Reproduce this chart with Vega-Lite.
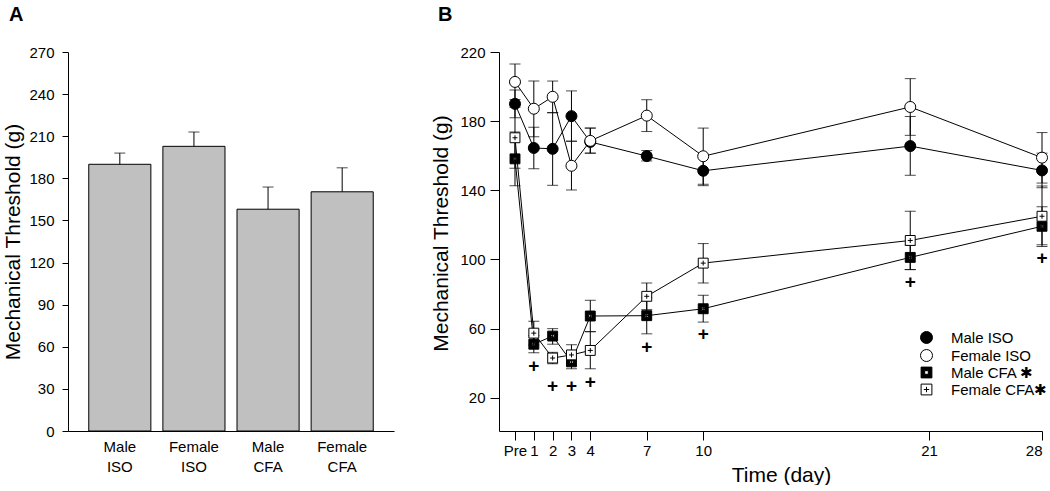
{
  "$schema": "https://vega.github.io/schema/vega-lite/v6.json",
  "background": "white",
  "padding": {"left": 2, "top": 5, "right": 2, "bottom": 0},
  "config": {
    "font": "Liberation Sans",
    "view": {"stroke": null},
    "axis": {"grid": false, "domainColor": "black", "tickColor": "black", "labelColor": "black", "titleColor": "black", "labelFont": "Liberation Sans", "titleFont": "Liberation Sans", "labelFontSize": 15, "titleFontSize": 21, "titleFontWeight": "normal", "domainWidth": 1, "tickWidth": 1},
    "title": {"font": "Liberation Sans", "fontSize": 20, "fontWeight": "bold", "anchor": "start", "color": "black", "frame": "bounds"}
  },
  "datasets": {
    "bars": [
      {"group": "Male ISO", "mean": 190, "hi": 198},
      {"group": "Female ISO", "mean": 202.8, "hi": 213},
      {"group": "Male CFA", "mean": 158, "hi": 173.8},
      {"group": "Female CFA", "mean": 170.4, "hi": 187.5}
    ],
    "series": [
      {"group": "Male ISO", "day": 0, "mean": 190, "lo": 182, "hi": 198},
      {"group": "Male ISO", "day": 1, "mean": 164.5, "lo": 152.5, "hi": 176.5},
      {"group": "Male ISO", "day": 2, "mean": 164, "lo": 142.9, "hi": 185},
      {"group": "Male ISO", "day": 3, "mean": 182.9, "lo": 168.4, "hi": 197.5},
      {"group": "Male ISO", "day": 4, "mean": 168, "lo": 161.5, "hi": 176},
      {"group": "Male ISO", "day": 7, "mean": 159.8, "lo": 157, "hi": 163},
      {"group": "Male ISO", "day": 10, "mean": 151.3, "lo": 142.7, "hi": 160},
      {"group": "Male ISO", "day": 21, "mean": 165.6, "lo": 148.7, "hi": 182.7},
      {"group": "Male ISO", "day": 28, "mean": 151.5, "lo": 141.5, "hi": 161.5},
      {"group": "Female ISO", "day": 0, "mean": 202.7, "lo": 192.5, "hi": 213.1},
      {"group": "Female ISO", "day": 1, "mean": 187.2, "lo": 171, "hi": 203.2},
      {"group": "Female ISO", "day": 2, "mean": 194.1, "lo": 184.8, "hi": 203.2},
      {"group": "Female ISO", "day": 3, "mean": 154.2, "lo": 140.2, "hi": 168.4},
      {"group": "Female ISO", "day": 4, "mean": 168.6, "lo": 161.5, "hi": 176},
      {"group": "Female ISO", "day": 7, "mean": 183.2, "lo": 174, "hi": 192.4},
      {"group": "Female ISO", "day": 10, "mean": 159.7, "lo": 143.5, "hi": 176},
      {"group": "Female ISO", "day": 21, "mean": 188.2, "lo": 171.8, "hi": 204.6},
      {"group": "Female ISO", "day": 28, "mean": 158.9, "lo": 144.2, "hi": 173.4},
      {"group": "Male CFA", "day": 0, "mean": 158.2, "lo": 142.6, "hi": 173.8},
      {"group": "Male CFA", "day": 1, "mean": 51, "lo": 46, "hi": 56},
      {"group": "Male CFA", "day": 2, "mean": 55.7, "lo": 51, "hi": 60},
      {"group": "Male CFA", "day": 3, "mean": 40.8, "lo": 36.8, "hi": 44.8},
      {"group": "Male CFA", "day": 4, "mean": 67.3, "lo": 58.3, "hi": 76.4},
      {"group": "Male CFA", "day": 7, "mean": 67.5, "lo": 57, "hi": 78},
      {"group": "Male CFA", "day": 10, "mean": 71.5, "lo": 63.8, "hi": 79.3},
      {"group": "Male CFA", "day": 21, "mean": 101.2, "lo": 94.1, "hi": 108.3},
      {"group": "Male CFA", "day": 28, "mean": 119.2, "lo": 108.5, "hi": 130.5},
      {"group": "Female CFA", "day": 0, "mean": 170.4, "lo": 152.8, "hi": 188},
      {"group": "Female CFA", "day": 1, "mean": 57.4, "lo": 50.5, "hi": 64.3},
      {"group": "Female CFA", "day": 2, "mean": 43, "lo": 39.7, "hi": 46.3},
      {"group": "Female CFA", "day": 3, "mean": 44.8, "lo": 39, "hi": 50.7},
      {"group": "Female CFA", "day": 4, "mean": 47.4, "lo": 36.8, "hi": 58.2},
      {"group": "Female CFA", "day": 7, "mean": 78.7, "lo": 71, "hi": 86.4},
      {"group": "Female CFA", "day": 10, "mean": 97.9, "lo": 86.4, "hi": 109.2},
      {"group": "Female CFA", "day": 21, "mean": 111, "lo": 94.2, "hi": 127.9},
      {"group": "Female CFA", "day": 28, "mean": 125, "lo": 107.5, "hi": 142.5}
    ],
    "plus": [
      {"day": 1, "value": 39.3},
      {"day": 2, "value": 28.1},
      {"day": 3, "value": 28.1},
      {"day": 4, "value": 30.1},
      {"day": 7, "value": 50.3},
      {"day": 10, "value": 58},
      {"day": 21, "value": 88.3},
      {"day": 28, "value": 101.8}
    ]
  },
  "spacing": 36,
  "hconcat": [
    {
      "width": 326,
      "height": 379,
      "title": {"text": "A", "offset": 20, "dx": 6},
      "data": {"name": "bars"},
      "encoding": {
        "x": {"field": "group", "type": "nominal", "sort": null, "scale": {"paddingInner": 0.162, "paddingOuter": 0.28}, "axis": {"title": null, "labelAngle": 0, "ticks": false, "labelExpr": "split(datum.label, ' ')", "labelPadding": 8, "labelLineHeight": 20, "labelBaseline": "top", "labelFontSize": 15}}
      },
      "layer": [
        {
          "mark": {"type": "bar", "fill": "#c0c0c0", "stroke": "black", "strokeWidth": 1},
          "encoding": {"y": {"field": "mean", "type": "quantitative", "title": "Mechanical Threshold (g)", "scale": {"domain": [0, 270], "nice": false}, "axis": {"values": [0, 30, 60, 90, 120, 150, 180, 210, 240, 270], "tickSize": 6, "labelPadding": 8, "titlePadding": 5}}}
        },
        {
          "mark": {"type": "rule", "color": "black", "strokeWidth": 1},
          "encoding": {"y": {"field": "mean", "type": "quantitative", "title": "Mechanical Threshold (g)"}, "y2": {"field": "hi"}}
        },
        {
          "mark": {"type": "tick", "orient": "horizontal", "color": "black", "size": 11, "thickness": 1},
          "encoding": {"y": {"field": "hi", "type": "quantitative", "title": "Mechanical Threshold (g)"}}
        }
      ]
    },
    {
      "width": 543,
      "height": 379,
      "title": {"text": "B", "offset": 20, "dx": 7},
      "encoding": {
        "x": {"field": "day", "type": "quantitative", "title": "Time (day)", "scale": {"domain": [-0.85, 28], "nice": false, "zero": false}, "axis": {"values": [0, 1, 2, 3, 4, 7, 10, 22, 28], "labelExpr": "datum.value == 0 ? 'Pre' : datum.value == 22 ? '21' : datum.label", "tickSize": 9, "labelPadding": 3, "titlePadding": 6, "titleX": 282}}
      },
      "layer": [
        {
          "data": {"name": "series"},
          "mark": {"type": "rule", "color": "black", "strokeWidth": 1},
          "encoding": {"y": {"field": "lo", "type": "quantitative", "title": "Mechanical Threshold (g)", "scale": {"domain": [0.8, 220], "nice": false, "zero": false}, "axis": {"values": [20, 40, 60, 80, 100, 120, 140, 160, 180, 200, 220], "tickSize": 9, "labelPadding": 5, "titlePadding": 8, "titleY": 181}}, "y2": {"field": "hi"}}
        },
        {
          "data": {"name": "series"},
          "mark": {"type": "tick", "orient": "horizontal", "color": "black", "size": 11, "thickness": 1},
          "encoding": {"y": {"field": "lo", "type": "quantitative", "title": "Mechanical Threshold (g)"}}
        },
        {
          "data": {"name": "series"},
          "mark": {"type": "tick", "orient": "horizontal", "color": "black", "size": 11, "thickness": 1},
          "encoding": {"y": {"field": "hi", "type": "quantitative", "title": "Mechanical Threshold (g)"}}
        },
        {
          "data": {"name": "series"},
          "mark": {"type": "line", "color": "black", "strokeWidth": 1},
          "encoding": {"y": {"field": "mean", "type": "quantitative", "title": "Mechanical Threshold (g)"}, "detail": {"field": "group"}}
        },
        {
          "data": {"name": "series"},
          "mark": {"type": "point", "filled": true, "stroke": "black", "strokeWidth": 1, "size": 121, "opacity": 1},
          "encoding": {
            "y": {"field": "mean", "type": "quantitative", "title": "Mechanical Threshold (g)"},
            "shape": {"field": "group", "type": "nominal", "scale": {"domain": ["Male ISO", "Female ISO", "Male CFA", "Female CFA"], "range": ["circle", "circle", "M-0.9,-0.9H0.9V0.9H-0.9ZM-0.3,-0.3V0.3H0.3V-0.3Z", "M-0.9,-0.9H0.9V0.9H-0.9ZM-0.45,0H0.45M0,-0.45V0.45"]}, "legend": {"title": null, "orient": "none", "legendX": 851, "legendY": 278, "padding": 0, "labelFontSize": 15, "labelFont": "Liberation Sans", "labelColor": "black", "symbolSize": 144, "symbolStrokeWidth": 1, "labelOffset": 17, "rowPadding": 1, "labelExpr": "datum.label == 'Male CFA' ? 'Male CFA ✱' : datum.label == 'Female CFA' ? 'Female CFA✱' : datum.label"}},
            "fill": {"field": "group", "type": "nominal", "scale": {"domain": ["Male ISO", "Female ISO", "Male CFA", "Female CFA"], "range": ["black", "white", "black", "white"]}, "legend": {"title": null, "orient": "none", "legendX": 851, "legendY": 278, "padding": 0, "labelFontSize": 15, "labelFont": "Liberation Sans", "labelColor": "black", "symbolSize": 144, "symbolStrokeWidth": 1, "labelOffset": 17, "rowPadding": 1, "labelExpr": "datum.label == 'Male CFA' ? 'Male CFA ✱' : datum.label == 'Female CFA' ? 'Female CFA✱' : datum.label"}}
          }
        },
        {
          "data": {"name": "plus"},
          "mark": {"type": "text", "text": "+", "fontSize": 19, "fontWeight": "bold", "font": "Liberation Sans", "color": "black", "baseline": "alphabetic", "dy": 8},
          "encoding": {"y": {"field": "value", "type": "quantitative", "title": "Mechanical Threshold (g)"}}
        }
      ]
    }
  ]
}
